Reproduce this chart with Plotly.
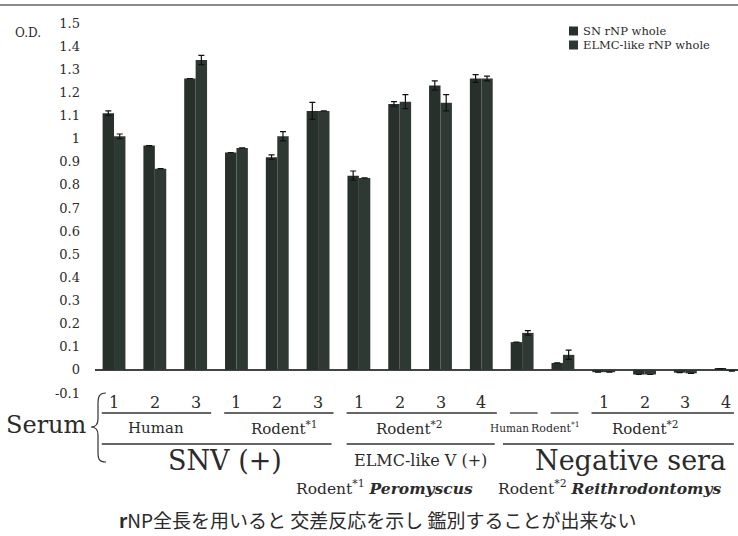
import plotly.graph_objects as go

# ---------------- data ----------------
groups = list(range(16))
sn_whole = [1.11, 0.97, 1.26, 0.94, 0.92, 1.12, 0.84, 1.15, 1.23, 1.26,
            0.12, 0.03, -0.01, -0.02, -0.012, 0.005]
sn_err = [0.01, 0.0, 0.0, 0.0, 0.01, 0.037, 0.02, 0.01, 0.02, 0.017,
          0.0, 0.0, 0.0, 0.0, 0.0, 0.0]
elmc_whole = [1.01, 0.87, 1.34, 0.96, 1.01, 1.12, 0.83, 1.16, 1.155, 1.26,
              0.16, 0.065, -0.01, -0.02, -0.015, -0.005]
elmc_err = [0.01, 0.0, 0.02, 0.0, 0.02, 0.0, 0.0, 0.03, 0.035, 0.01,
            0.01, 0.02, 0.0, 0.0, 0.0, 0.0]
series_names = ["SN rNP whole", "ELMC-like rNP whole"]

y_tickvals = [1.5, 1.4, 1.3, 1.2, 1.1, 1.0, 0.9, 0.8, 0.7, 0.6, 0.5, 0.4,
              0.3, 0.2, 0.1, 0.0, -0.1]
y_ticktext = ["1.5", "1.4", "1.3", "1.2", "1.1", "1", "0.9", "0.8", "0.7",
              "0.6", "0.5", "0.4", "0.3", "0.2", "0.1", "0", "-0.1"]

# row 1: sample numbers (group index, label)
sample_numbers = [(0, "1"), (1, "2"), (2, "3"), (3, "1"), (4, "2"), (5, "3"),
                  (6, "1"), (7, "2"), (8, "3"), (9, "4"),
                  (12, "1"), (13, "2"), (14, "3"), (15, "4")]
# row 2: host subgroups (first group, last group, label, label x, font size)
subgroups = [(0, 2, "Human", 1.03, 15),
             (3, 5, "Rodent<sup>*1</sup>", 4.17, 15),
             (6, 9, "Rodent<sup>*2</sup>", 7.23, 15),
             (10, 10, "Human", 9.68, 10.5),
             (11, 11, "Rodent<sup>*1</sup>", 10.81, 11),
             (12, 15, "Rodent<sup>*2</sup>", 13.01, 15)]
# row 3: serum categories
categories = [(0, 5, "SNV (+)", 2.72, 27),
              (6, 9, "ELMC-like V (+)", 7.52, 16),
              (10, 15, "Negative sera", 12.65, 27)]
footnote1 = "Rodent<sup>*1</sup> <b><i>Peromyscus</i></b>"
footnote2 = "Rodent<sup>*2</sup> <b><i>Reithrodontomys</i></b>"
caption = "<b>r</b>NP全長を用いると 交差反応を示し 鑑別することが出来ない"

BAR1 = "#27302b"
BAR2 = "#2f3933"
TXT = "#2b2b2b"
SERIF = "DejaVu Serif, Liberation Serif, serif"

# -------- pixel helpers for paper coordinates --------
L, R, T, B = 95, 0, 23, 143
W, H = 738, 536
PW, PH = W - L - R, H - T - B
def px(x):
    return (x - L) / PW
def py(y):
    return (H - B - y) / PH

fig = go.Figure()
fig.add_trace(go.Bar(x=groups, y=sn_whole, name=series_names[0],
                     marker=dict(color=BAR1, line=dict(width=0)),
                     showlegend=False,
                     error_y=dict(type="data", array=sn_err, color="#111",
                                  thickness=1.2, width=3)))
fig.add_trace(go.Bar(x=groups, y=elmc_whole, name=series_names[1],
                     marker=dict(color=BAR2, line=dict(width=0)),
                     showlegend=False,
                     error_y=dict(type="data", array=elmc_err, color="#111",
                                  thickness=1.2, width=3)))

x_lo, x_hi = -0.466, 15.29
fig.update_layout(
    width=W, height=H,
    margin=dict(l=L, r=R, t=T, b=B, pad=0),
    paper_bgcolor="white", plot_bgcolor="white",
    barmode="group", bargap=0.44, bargroupgap=0,
    showlegend=False,
    font=dict(family=SERIF, color=TXT),
    xaxis=dict(range=[x_lo, x_hi], showticklabels=False, ticks="",
               showgrid=False, zeroline=False, showline=False),
    yaxis=dict(range=[-0.1, 1.5], tickvals=y_tickvals, ticktext=y_ticktext,
               tickfont=dict(family=SERIF, size=13, color=TXT),
               ticks="", ticklabelstandoff=14, showgrid=False,
               zeroline=True, zerolinecolor="#444", zerolinewidth=1.5,
               showline=False),
)

ann = []
shapes = []
def text(t, x, y, size, xref="paper", xanchor="center", family=SERIF):
    ann.append(dict(text=t, xref=xref, yref="paper", x=x, y=y,
                    xanchor=xanchor, yanchor="middle", showarrow=False,
                    font=dict(size=size, family=family, color=TXT)))

# top border line
shapes.append(dict(type="line", xref="paper", yref="paper",
                   x0=px(0), x1=px(738), y0=py(5), y1=py(5),
                   line=dict(color="#8a8a8a", width=2)))
# O.D.
text("O.D.", px(28), py(33), 12)

# legend (manual, to match the compact layout)
for i, (name, col) in enumerate(zip(series_names, [BAR1, BAR2])):
    yc = 31 + 14 * i
    shapes.append(dict(type="rect", xref="paper", yref="paper",
                       x0=px(569), x1=px(578), y0=py(yc + 4.5), y1=py(yc - 4.5),
                       fillcolor=col, line=dict(width=0)))
    text(name, px(581), py(yc), 11.5, xanchor="left")

# row 1 numbers
for g, lab in sample_numbers:
    text(lab, g, py(402), 16, xref="x")
# row 1 underlines + row 2 labels
for g0, g1, lab, lx, fs in subgroups:
    x0 = g0 - 0.3
    x1 = min(g1 + 0.38, x_hi - 0.1)
    shapes.append(dict(type="line", xref="x", yref="paper", x0=x0, x1=x1,
                       y0=py(413), y1=py(413), line=dict(color="#333", width=1.3)))
    text(lab, lx, py(428), fs, xref="x")
# row 2 lines + row 3 labels
for g0, g1, lab, lx, fs in categories:
    x0 = g0 - 0.3 if g0 != 10 else g0 - 0.47
    x1 = min(g1 + 0.33, x_hi - 0.1)
    shapes.append(dict(type="line", xref="x", yref="paper", x0=x0, x1=x1,
                       y0=py(444), y1=py(444), line=dict(color="#333", width=1.3)))
    text(lab, lx, py(460), fs, xref="x")

# Serum + brace
text("Serum", px(47), py(425), 24)
def P(x, y):
    return f"{px(x):.5f},{py(y):.5f}"
brace = (f"M {P(106,393)} C {P(99,393)} {P(98,397)} {P(98,404)} "
         f"L {P(98,419)} C {P(98,424)} {P(96,427)} {P(91,427)} "
         f"C {P(96,427)} {P(98,430)} {P(98,435)} "
         f"L {P(98,452)} C {P(98,459)} {P(99,462)} {P(106,462)}")
shapes.append(dict(type="path", xref="paper", yref="paper", path=brace,
                   line=dict(color="#333", width=1.2)))

# footnotes
text(footnote1, px(294), py(487), 15.5, xanchor="left")
text(footnote2, px(496), py(487), 15.5, xanchor="left")
text(caption, px(378), py(519), 19, family="Noto Sans CJK JP, " + SERIF)

fig.update_layout(annotations=ann, shapes=shapes)
fig.write_html("out.html")
